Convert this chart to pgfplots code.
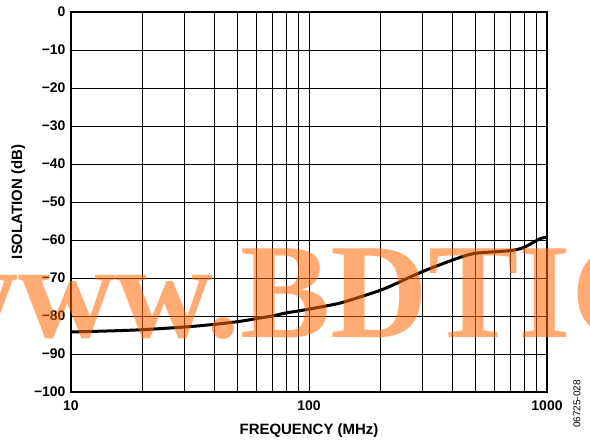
\documentclass[border=0pt]{standalone}
\usepackage{pgfplots}
\pgfplotsset{compat=1.18}
\usepackage{fontspec}
\setmainfont{Liberation Sans}
\newfontfamily\wmfont{Liberation Serif}
\definecolor{wmorange}{RGB}{255,102,0}

\pgfplotstableread{
f     iso
10    -84.2
15    -83.9
20    -83.6
30    -82.9
40    -82.2
50    -81.5
60    -80.7
70    -80.0
80    -79.2
100   -78.2
133   -76.7
160   -75.2
200   -73.2
230   -71.6
267   -69.7
320   -67.6
400   -65.3
450   -64.2
500   -63.5
600   -63.1
700   -62.8
780   -62.2
850   -61.1
900   -60.2
950   -59.5
1000  -59.3
}\isolation

\begin{document}
\begin{tikzpicture}
\path[use as bounding box] (0,0) rectangle (590bp,442bp);
\begin{axis}[
    at={(71bp,50bp)}, anchor=south west,
    scale only axis, width=476bp, height=380bp,
    xmode=log, xmin=10, xmax=1000,
    ymin=-100, ymax=0,
    xtick={10,100,1000}, xticklabels={10,100,1000},
    ytick={-100,-90,...,0},
    yticklabels={−100,−90,−80,−70,−60,−50,−40,−30,−20,−10,0},
    grid=both,
    major grid style={black, line width=0.8bp},
    minor grid style={black, line width=0.8bp},
    major tick length=0pt, minor tick length=0pt,
    axis line style={black, line width=1.8bp},
    tick label style={font=\bfseries\fontsize{14}{16}\selectfont},
    xticklabel style={yshift=-5bp},
    yticklabel style={xshift=-2bp},
    xlabel={\bfseries FREQUENCY (MHz)},
    ylabel={\bfseries ISOLATION (dB)},
    label style={font=\bfseries\fontsize{15}{17}\selectfont},
    xlabel style={yshift=-6bp},
    ylabel style={yshift=2bp},
]
\addplot[black, line width=3bp, smooth] table[x=f, y=iso] {\isolation};
\end{axis}
\node[rotate=90, font=\fontsize{10}{11}\selectfont, inner sep=0] at (577bp,38bp) {06725-028};
\begin{scope}
\clip (0,0) rectangle (590bp,442bp);
\node[anchor=base west, inner sep=0, text=wmorange, opacity=0.55,
      font=\wmfont\bfseries\fontsize{136}{140}\selectfont] at (-80bp,104bp) {www.BDTIC};
\end{scope}
\end{tikzpicture}
\end{document}
